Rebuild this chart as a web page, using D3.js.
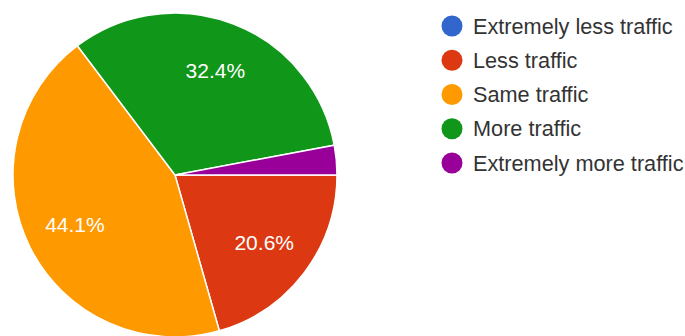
<!DOCTYPE html>
<html>
<head>
<meta charset="utf-8">
<script src="https://cdn.jsdelivr.net/npm/d3@7/dist/d3.min.js"></script>
<style>
  html, body { margin: 0; padding: 0; background: #fff; }
  svg { display: block; }
</style>
</head>
<body>
<svg id="chart" width="685" height="336"></svg>
<script>
// Survey answers: how traffic changed
const categories = ["Extremely less traffic", "Less traffic", "Same traffic", "More traffic", "Extremely more traffic"];
const counts = [0, 7, 15, 11, 1];
const colors = ["#3366cc", "#dc3912", "#ff9900", "#109618", "#990099"];

const svg = d3.select("#chart");
const font = "Arial, 'Liberation Sans', sans-serif";

const cx = 175, cy = 175, radius = 162;
const total = d3.sum(counts);

const pie = d3.pie()
  .value(d => d)
  .sort(null)
  .startAngle(Math.PI / 2)
  .endAngle(Math.PI / 2 + 2 * Math.PI);

const arcs = pie(counts).map((a, i) => Object.assign(a, { i }));

const arc = d3.arc().innerRadius(0).outerRadius(radius);
const labelArc = d3.arc().innerRadius(radius * 0.69).outerRadius(radius * 0.69);

const g = svg.append("g").attr("transform", `translate(${cx},${cy})`);

g.selectAll("path.slice")
  .data(arcs.filter(d => d.value > 0))
  .join("path")
  .attr("class", "slice")
  .attr("d", arc)
  .attr("fill", d => colors[d.i])
  .attr("stroke", "#ffffff")
  .attr("stroke-width", 1.5);

// Percent labels on slices large enough to hold them
g.selectAll("text.pct")
  .data(arcs.filter(d => d.value / total > 0.05))
  .join("text")
  .attr("class", "pct")
  .attr("transform", d => `translate(${labelArc.centroid(d)})`)
  .attr("text-anchor", "middle")
  .attr("dominant-baseline", "central")
  .attr("font-family", font)
  .attr("font-size", 21)
  .attr("fill", "#ffffff")
  .text(d => (d.value / total * 100).toFixed(1) + "%");

// Legend
const legendY = d3.scalePoint()
  .domain(categories)
  .range([26, 163]);

const legend = svg.append("g");
const items = legend.selectAll("g.item")
  .data(categories)
  .join("g")
  .attr("class", "item")
  .attr("transform", d => `translate(452,${legendY(d)})`);

items.append("circle")
  .attr("r", 10.5)
  .attr("fill", (d, i) => colors[i]);

items.append("text")
  .attr("x", 21)
  .attr("dominant-baseline", "central")
  .attr("font-family", font)
  .attr("font-size", 21.7)
  .attr("fill", "#333333")
  .text(d => d);
</script>
</body>
</html>
